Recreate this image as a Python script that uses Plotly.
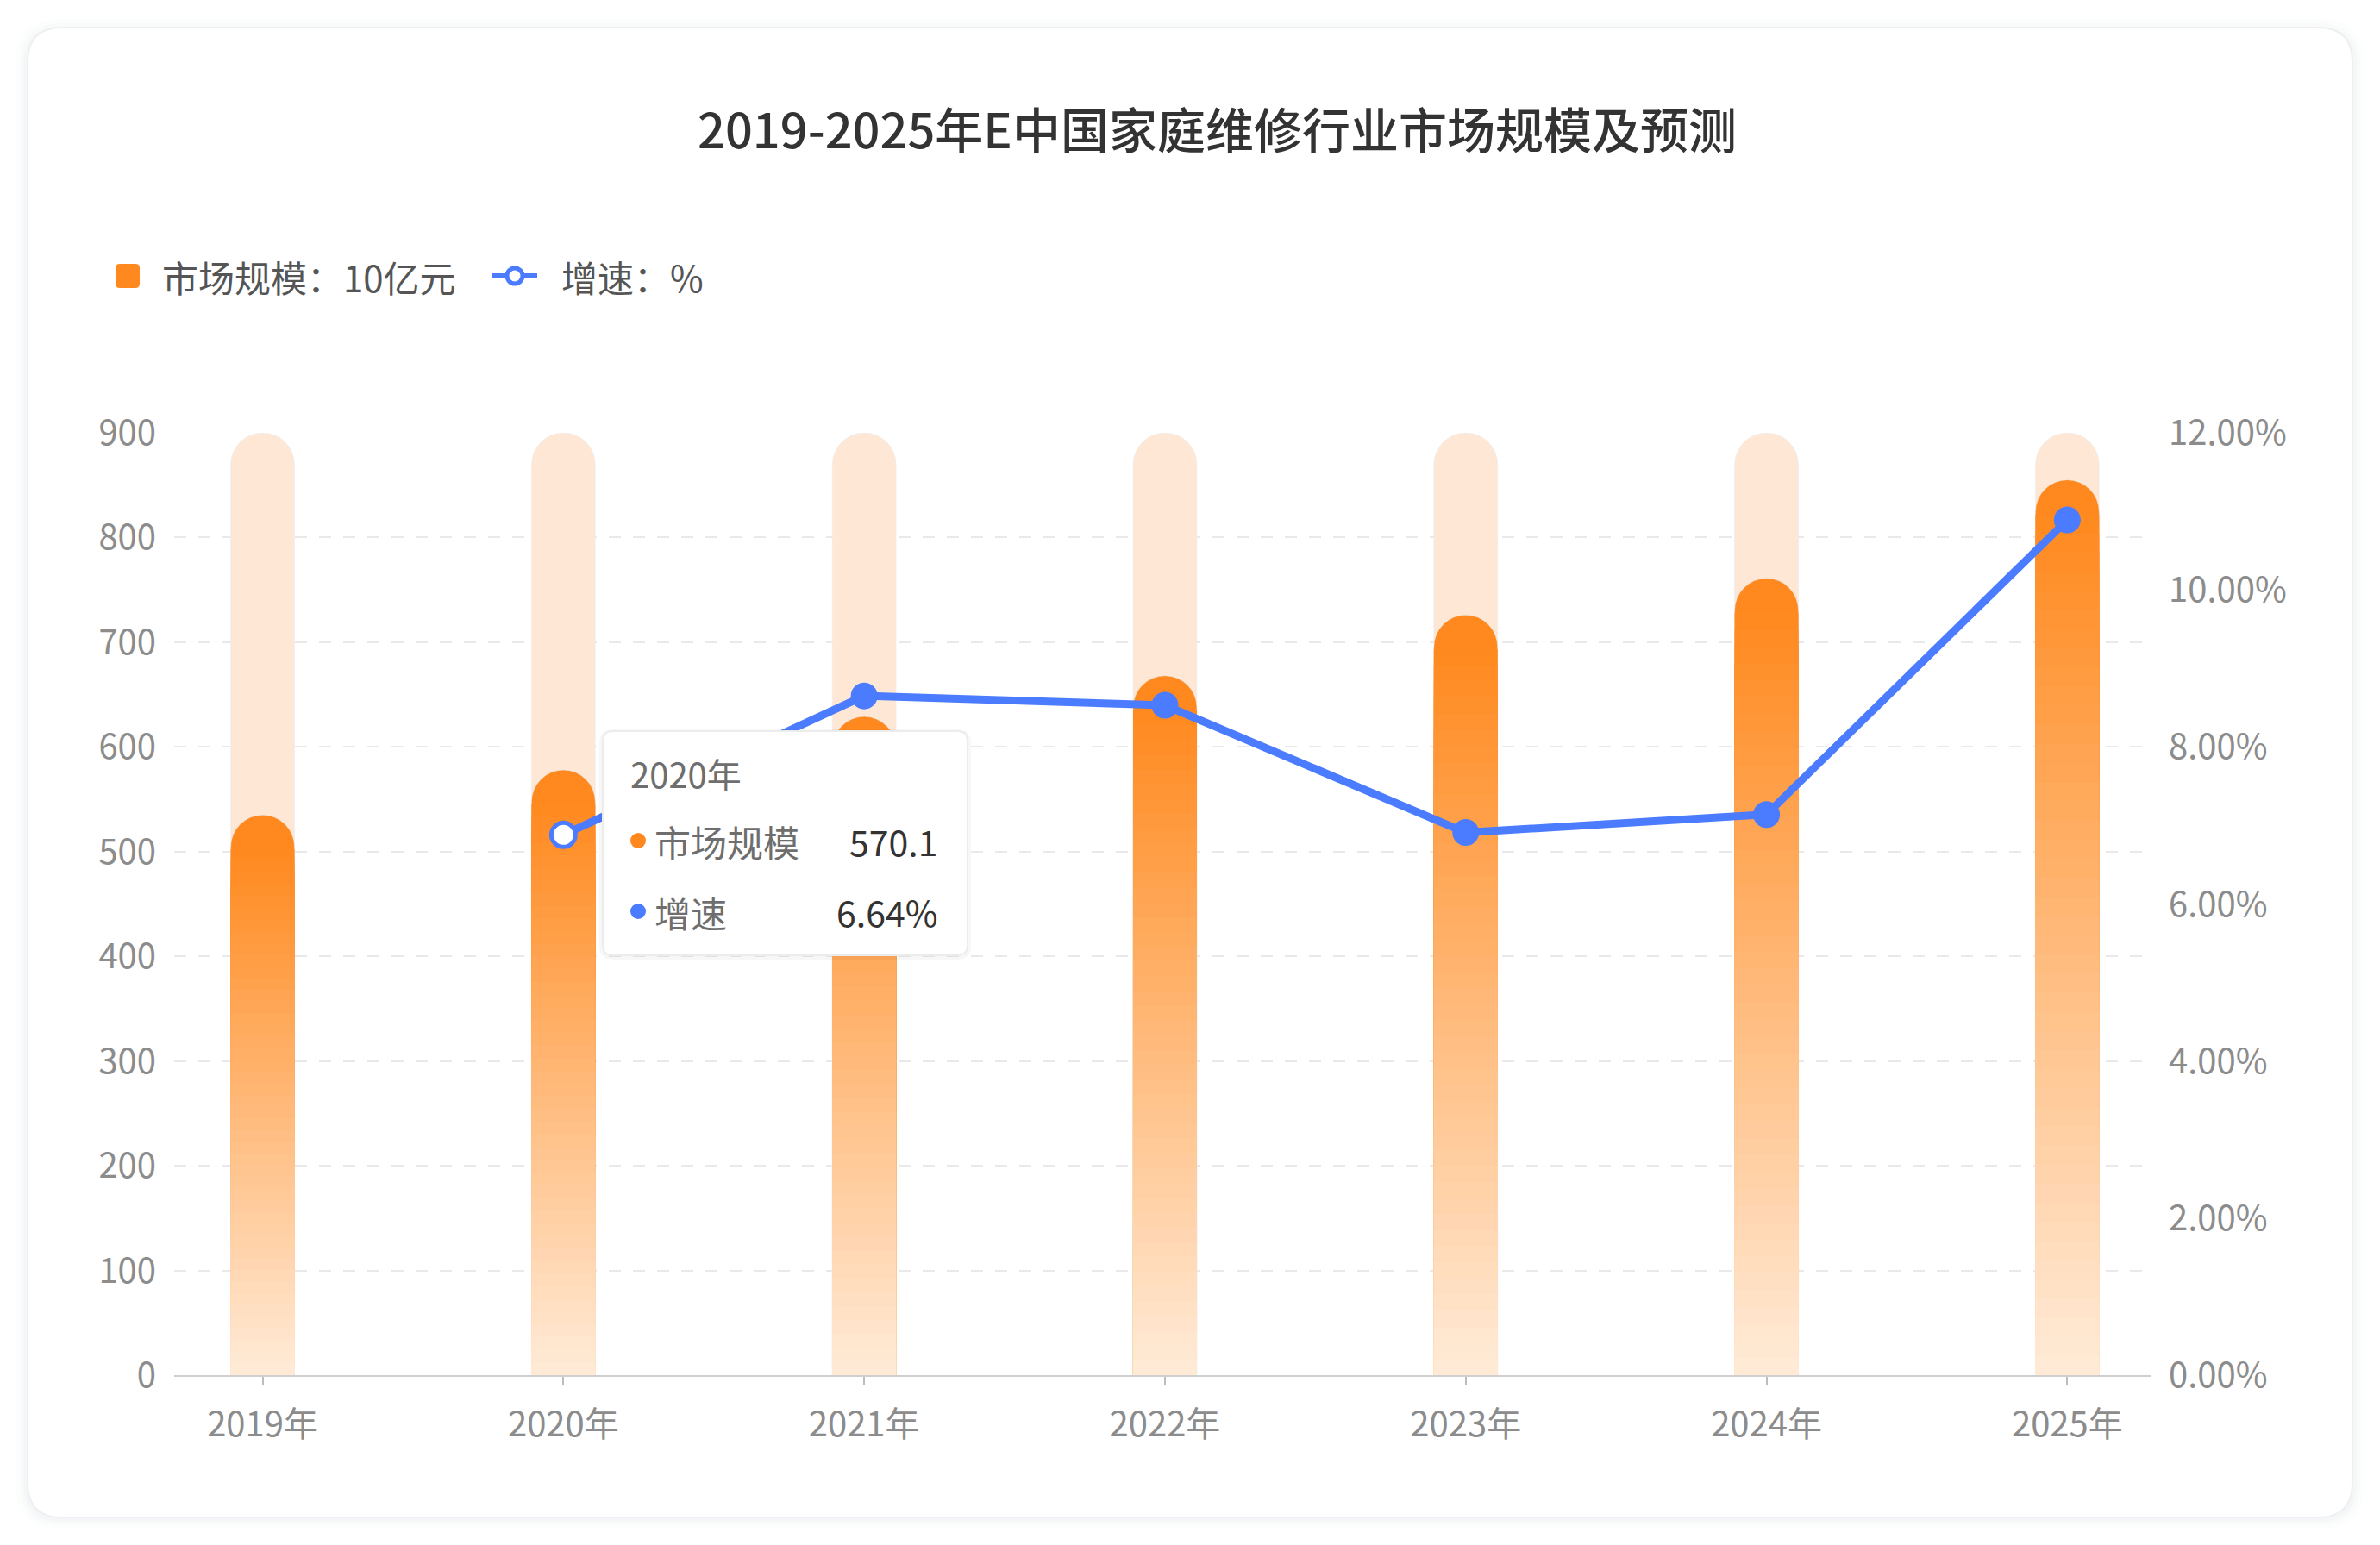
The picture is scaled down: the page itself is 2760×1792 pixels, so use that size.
import plotly.graph_objects as go

# ---- data ----
years = ["2019年", "2020年", "2021年", "2022年", "2023年", "2024年", "2025年"]
market_size = [535, 578, 629, 668, 726, 761, 855]          # 市场规模, 10亿元
growth = [None, 6.88, 8.65, 8.53, 6.91, 7.14, 10.89]       # 增速, %
track_max = [900, 900, 900, 900, 900, 900, 900]            # background track

left_ticks = [0, 100, 200, 300, 400, 500, 600, 700, 800, 900]
right_ticks = [0, 2, 4, 6, 8, 10, 12]
right_labels = ["0.00%", "2.00%", "4.00%", "6.00%", "8.00%", "10.00%", "12.00%"]

title_text = "2019-2025年E中国家庭维修行业市场规模及预测"
legend_bar = "市场规模：10亿元"
legend_line = "增速：%"
tip_year = "2020年"
tip_rows = [("市场规模", "570.1"), ("增速", "6.64%")]

# ---- page geometry (page pixels; the html body adds an 8px margin) ----
OFF = 8
FIG_W, FIG_H = 2760 - 2 * OFF, 1792 - 2 * OFF
L, R_EDGE, T, PB = 202, 2494, 502, 1595
W, H = R_EDGE - L, PB - T

FONT = "Noto Sans CJK SC"
ORANGE = (255, 137, 30)
ORANGE_LIGHT = (255, 235, 216)
TRACK = "#fee7d4"
BLUE = "#4b7bfe"
BAR_W = 0.212


def fx(p):
    return (p - L) / W


def fy(p):
    return (PB - p) / H


def rounded(x0, y0, x1, y1, r):
    a, b, top, bot = fx(x0), fx(x1), fy(y0), fy(y1)
    rx, ry = r / W, r / H
    return (f"M{a+rx},{top} L{b-rx},{top} Q{b},{top} {b},{top-ry} "
            f"L{b},{bot+ry} Q{b},{bot} {b-rx},{bot} L{a+rx},{bot} "
            f"Q{a},{bot} {a},{bot+ry} L{a},{top-ry} Q{a},{top} {a+rx},{top} Z")


def circle(cx, cy, r, **kw):
    return dict(type="circle", xref="paper", yref="paper",
                x0=fx(cx - r), x1=fx(cx + r), y0=fy(cy + r), y1=fy(cy - r), **kw)


def rgb(c):
    return "rgb(%d,%d,%d)" % tuple(round(v) for v in c)


def mix(c0, c1, t):
    return tuple(a + (b - a) * t for a, b in zip(c0, c1))


fig = go.Figure()

# background tracks (own subplot so the rounded top is kept)
fig.add_trace(go.Bar(x=years, y=track_max, width=BAR_W, marker=dict(color=TRACK, cornerradius="50%"),
                     hoverinfo="skip", showlegend=False))

# market size bar on y2: solid rounded cap, then gradient bands laid over it
fig.add_trace(go.Bar(x=years, y=market_size, width=BAR_W, yaxis="y2",
                     marker=dict(color=rgb(ORANGE), cornerradius="50%"),
                     hoverinfo="skip", showlegend=False))
cap = 40 / (H / 900)
STEPS = 45
for k in range(STEPS):
    f = 1 - k / STEPS
    col = mix(ORANGE_LIGHT, ORANGE, f - 0.5 / STEPS)
    fig.add_trace(go.Bar(x=years, y=[(v - cap) * f for v in market_size], width=BAR_W, yaxis="y2",
                         marker=dict(color=rgb(col), line=dict(width=0)),
                         hoverinfo="skip", showlegend=False))

# growth line on y3 (right axis)
mcolors = [BLUE] * len(years)
msizes = [26] * len(years)
mcolors[1] = "white"
msizes[1] = 28
fig.add_trace(go.Scatter(x=years, y=growth, yaxis="y3", mode="lines+markers",
                         line=dict(color=BLUE, width=9),
                         marker=dict(color=mcolors, size=msizes, opacity=1,
                                     line=dict(color=BLUE, width=5)),
                         hoverinfo="skip", showlegend=False))

shapes = []
# card with soft shadow
for grow, alpha in [(14, 0.012), (9, 0.015), (5, 0.02)]:
    shapes.append(dict(type="path", xref="paper", yref="paper", layer="below",
                       path=rounded(32 - grow, 32 - grow + 4, 2728 + grow, 1760 + grow, 40 + grow),
                       fillcolor="rgba(40,50,80,%s)" % alpha, line=dict(width=0)))
shapes.append(dict(type="path", xref="paper", yref="paper", layer="below",
                   path=rounded(32, 32, 2728, 1760, 40),
                   fillcolor="white", line=dict(color="#eeeff2", width=2)))

# legend symbols
shapes.append(dict(type="path", xref="paper", yref="paper",
                   path=rounded(134, 306, 162, 334, 5), fillcolor=rgb(ORANGE), line=dict(width=0)))
shapes.append(dict(type="line", xref="paper", yref="paper", x0=fx(571), x1=fx(623), y0=fy(320), y1=fy(320),
                   line=dict(color=BLUE, width=6)))
shapes.append(circle(597, 320, 9, fillcolor="white", line=dict(color=BLUE, width=5)))

# tooltip box
shapes.append(dict(type="path", xref="paper", yref="paper", layer="above",
                   path=rounded(695, 846, 1126, 1113, 16), fillcolor="rgba(0,0,0,0.03)", line=dict(width=0)))
shapes.append(dict(type="path", xref="paper", yref="paper", layer="above",
                   path=rounded(699, 848, 1122, 1108, 12), fillcolor="white",
                   line=dict(color="#ececec", width=2)))
shapes.append(circle(740, 975, 9, layer="above", fillcolor=rgb(ORANGE), line=dict(width=0)))
shapes.append(circle(740, 1057, 9, layer="above", fillcolor=BLUE, line=dict(width=0)))

ann = []


def text(s, px, py, size, color, anchor="left", weight=400):
    ann.append(dict(text=s, x=fx(px), y=fy(py), xref="paper", yref="paper", showarrow=False,
                    xanchor=anchor, yanchor="middle",
                    font=dict(family=FONT, size=size, color=color, weight=weight)))


text(title_text, 1411, 148, 56, "#333333", anchor="center", weight=500)
text(legend_bar, 186, 320, 42, "#555555")
text(legend_line, 649, 320, 42, "#555555")
text(tip_year, 729, 897, 40, "#6e6e6e")
for (name, val), py in zip(tip_rows, [975, 1057]):
    text(name, 757, py, 42, "#6e6e6e")
    text(val, 1089, py, 41, "#333333", anchor="right")

axis_font = dict(family=FONT, size=40, color="#8c8c8c")

fig.update_layout(
    width=FIG_W, height=FIG_H,
    margin=dict(l=L - OFF, r=FIG_W - (R_EDGE - OFF), t=T - OFF, b=FIG_H - (PB - OFF)),
    paper_bgcolor="white", plot_bgcolor="rgba(0,0,0,0)",
    barmode="overlay", hovermode=False, showlegend=False,
    shapes=shapes, annotations=ann,
    xaxis=dict(type="category", categoryorder="array", categoryarray=years,
               range=[-0.294, 6.277], showgrid=False, zeroline=False,
               showline=True, linecolor="#cfcfcf", linewidth=2,
               ticks="outside", ticklen=9, tickwidth=2, tickcolor="#bdbdbd",
               ticklabelstandoff=12, tickfont=axis_font),
    yaxis=dict(range=[0, 900], tickvals=left_ticks, showgrid=True, gridcolor="#e9e9e9",
               gridwidth=2, griddash="14px,14px", zeroline=False, showline=False,
               ticks="", ticklabelstandoff=20, tickfont=axis_font),
    yaxis2=dict(range=[0, 900], overlaying="y", visible=False),
    yaxis3=dict(range=[0, 12], overlaying="y", side="right", tickvals=right_ticks,
                ticktext=right_labels, showgrid=False, zeroline=False, showline=False,
                ticks="", ticklabelstandoff=20, tickfont=axis_font),
)

fig.write_html("out.html")
